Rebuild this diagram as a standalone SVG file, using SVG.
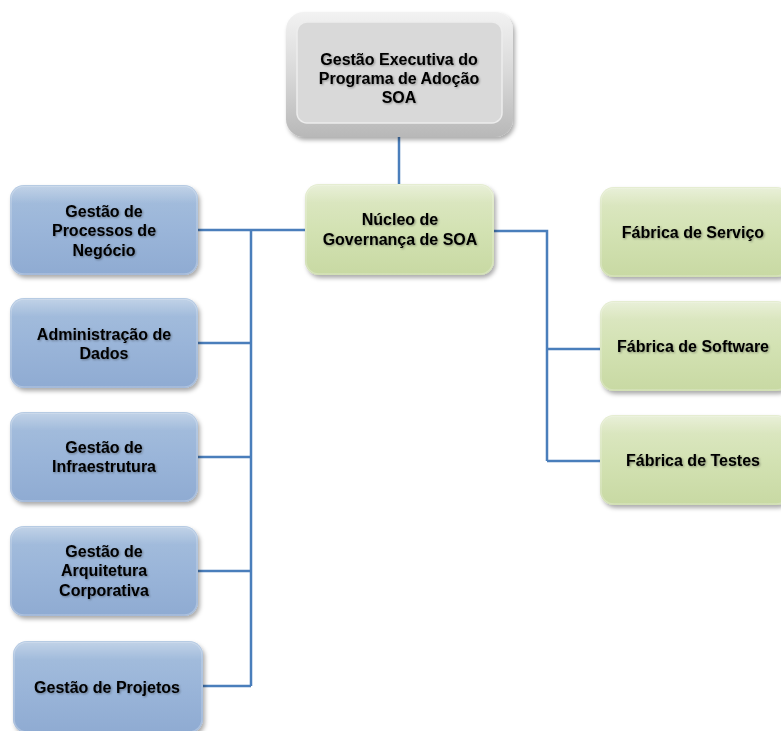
<svg xmlns="http://www.w3.org/2000/svg" width="781" height="731" viewBox="0 0 781 731">
  <defs>
    <linearGradient id="gBlue" x1="0" y1="0" x2="0" y2="1">
      <stop offset="0" stop-color="#a6bfdd"/>
      <stop offset="0.5" stop-color="#9ab5d9"/>
      <stop offset="1" stop-color="#8fabd2"/>
    </linearGradient>
    <linearGradient id="gGreen" x1="0" y1="0" x2="0" y2="1">
      <stop offset="0" stop-color="#dfe9c7"/>
      <stop offset="0.5" stop-color="#d3e2b3"/>
      <stop offset="1" stop-color="#c8d9a3"/>
    </linearGradient>
    <linearGradient id="gGrayRim" x1="0" y1="0" x2="0" y2="1">
      <stop offset="0" stop-color="#f2f2f2"/>
      <stop offset="0.5" stop-color="#d8d8d8"/>
      <stop offset="1" stop-color="#b8b8b8"/>
    </linearGradient>
    <linearGradient id="gHighlight" x1="0" y1="0" x2="0" y2="1">
      <stop offset="0" stop-color="#ffffff" stop-opacity="0.3"/>
      <stop offset="0.2" stop-color="#ffffff" stop-opacity="0"/>
    </linearGradient>
    <filter id="shadow" x="-10%" y="-10%" width="125%" height="130%">
      <feDropShadow dx="2" dy="3" stdDeviation="2.2" flood-color="#000" flood-opacity="0.33"/>
    </filter>
    <filter id="txtShadow" x="-5%" y="-20%" width="110%" height="150%">
      <feDropShadow dx="1" dy="1" stdDeviation="0.8" flood-color="#000" flood-opacity="0.35"/>
    </filter>
  </defs>
  <style>
    .blue { fill: url(#gBlue); filter: url(#shadow); }
    .green { fill: url(#gGreen); filter: url(#shadow); }
    .hl { fill: url(#gHighlight); stroke: #ffffff; stroke-opacity: 0.25; stroke-width: 1.5; }
    .lbl { font-family: "Liberation Sans", Arial, sans-serif; font-weight: bold; font-size: 16px; fill: #000; text-anchor: middle; filter: url(#txtShadow); }
    .conn { fill: none; stroke: #4a7ebb; stroke-width: 2.5; }
  </style>

  <rect width="781" height="731" fill="#ffffff"/>

  <!-- connectors -->
  <g id="connectors" class="conn">
    <path d="M399,137 V185"/>
    <path d="M198,230 H305"/>
    <path d="M251,230 V686"/>
    <path d="M198,343 H251"/>
    <path d="M198,457 H251"/>
    <path d="M198,571 H251"/>
    <path d="M203,686 H251"/>
    <path d="M494,231 H547 V461"/>
    <path d="M547,349 H600"/>
    <path d="M547,461 H600"/>
  </g>

  <!-- top node: executive management -->
  <g id="executivo">
    <rect x="286" y="12" width="227" height="125" rx="18" fill="url(#gGrayRim)" filter="url(#shadow)"/>
    <rect x="297" y="22" width="205" height="101" rx="10" fill="#d9d9d9" stroke="#ededed" stroke-width="1.5"/>
    <text class="lbl" x="399" y="65">Gestão Executiva do</text>
    <text class="lbl" x="399" y="84">Programa de Adoção</text>
    <text class="lbl" x="399" y="103">SOA</text>
  </g>

  <!-- governance core -->
  <g id="nucleo">
    <rect class="green" x="305" y="184" width="189" height="91" rx="14"/>
    <rect class="hl" x="306" y="185" width="187" height="89" rx="13"/>
    <text class="lbl" x="400" y="225">Núcleo de</text>
    <text class="lbl" x="400" y="245">Governança de SOA</text>
  </g>

  <!-- left column -->
  <g id="processos">
    <rect class="blue" x="10" y="185" width="188" height="90" rx="14"/>
    <rect class="hl" x="11" y="186" width="186" height="88" rx="13"/>
    <text class="lbl" x="104" y="217">Gestão de</text>
    <text class="lbl" x="104" y="236">Processos de</text>
    <text class="lbl" x="104" y="256">Negócio</text>
  </g>
  <g id="dados">
    <rect class="blue" x="10" y="298" width="188" height="90" rx="14"/>
    <rect class="hl" x="11" y="299" width="186" height="88" rx="13"/>
    <text class="lbl" x="104" y="340">Administração de</text>
    <text class="lbl" x="104" y="359">Dados</text>
  </g>
  <g id="infraestrutura">
    <rect class="blue" x="10" y="412" width="188" height="90" rx="14"/>
    <rect class="hl" x="11" y="413" width="186" height="88" rx="13"/>
    <text class="lbl" x="104" y="453">Gestão de</text>
    <text class="lbl" x="104" y="472">Infraestrutura</text>
  </g>
  <g id="arquitetura">
    <rect class="blue" x="10" y="526" width="188" height="90" rx="14"/>
    <rect class="hl" x="11" y="527" width="186" height="88" rx="13"/>
    <text class="lbl" x="104" y="557">Gestão de</text>
    <text class="lbl" x="104" y="576">Arquitetura</text>
    <text class="lbl" x="104" y="596">Corporativa</text>
  </g>
  <g id="projetos">
    <rect class="blue" x="13" y="641" width="190" height="92" rx="14"/>
    <rect class="hl" x="14" y="642" width="188" height="90" rx="13"/>
    <text class="lbl" x="107" y="693">Gestão de Projetos</text>
  </g>

  <!-- right column -->
  <g id="servico">
    <rect class="green" x="600" y="187" width="190" height="90" rx="14"/>
    <rect class="hl" x="601" y="188" width="188" height="88" rx="13"/>
    <text class="lbl" x="693" y="238">Fábrica de Serviço</text>
  </g>
  <g id="software">
    <rect class="green" x="600" y="301" width="190" height="90" rx="14"/>
    <rect class="hl" x="601" y="302" width="188" height="88" rx="13"/>
    <text class="lbl" x="693" y="352">Fábrica de Software</text>
  </g>
  <g id="testes">
    <rect class="green" x="600" y="415" width="190" height="90" rx="14"/>
    <rect class="hl" x="601" y="416" width="188" height="88" rx="13"/>
    <text class="lbl" x="693" y="466">Fábrica de Testes</text>
  </g>
</svg>
